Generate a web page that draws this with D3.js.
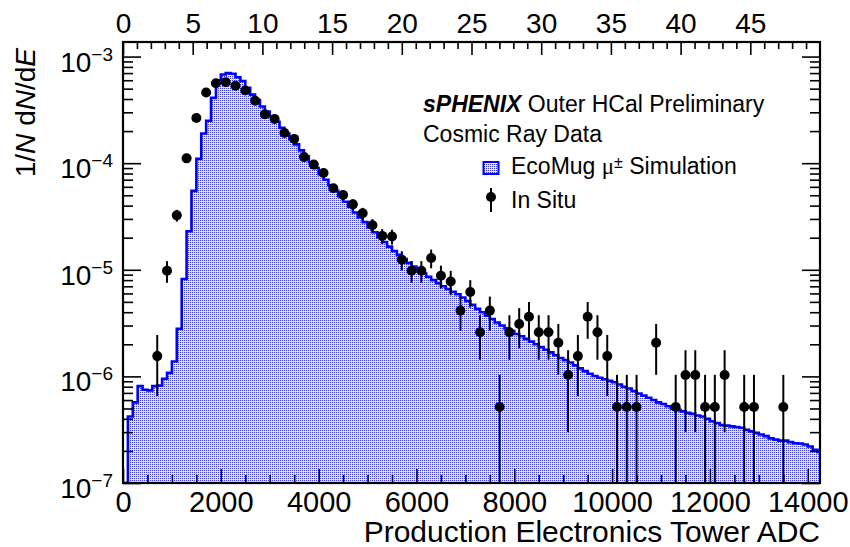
<!DOCTYPE html>
<html>
<head>
<meta charset="utf-8">
<script src="https://cdnjs.cloudflare.com/ajax/libs/d3/7.8.5/d3.min.js"></script>
<style>
  body { margin: 0; background: #fff; }
  text { font-family: "Liberation Sans", Arial, Helvetica, sans-serif; fill: #000; }
</style>
</head>
<body>
<svg id="chart" width="850" height="547"></svg>
<script>
//! DATA
// EcoMug simulation, 100 ADC wide bins starting at 0
let simBinWidth = 100;
let simValues = [
    0, 4.2e-7, 5.7e-7, 8.1e-7, 7.5e-7, 7.4e-7, 8.1e-7, 8.2e-7, 9.5e-7, 1.08e-6,
    1.38e-6, 2.8e-6, 8.2e-6, 2.3e-5, 5.5e-5, 1.1e-4, 1.9e-4, 2.5e-4, 4.1e-4, 6.0e-4,
    6.8e-4, 7.0e-4, 6.9e-4, 6.4e-4, 5.9e-4, 5.1e-4, 4.4e-4, 3.9e-4, 3.4e-4, 3.05e-4,
    2.75e-4, 2.45e-4, 2.15e-4, 1.9e-4, 1.68e-4, 1.5e-4, 1.32e-4, 1.16e-4, 1.02e-4, 9.0e-5,
    7.9e-5, 7.0e-5, 6.2e-5, 5.5e-5, 4.9e-5, 4.35e-5, 3.9e-5, 3.45e-5, 3.1e-5, 2.8e-5,
    2.5e-5, 2.25e-5, 2.02e-5, 1.82e-5, 1.65e-5, 1.5e-5, 1.38e-5, 1.26e-5, 1.16e-5, 1.07e-5,
    9.9e-6, 9.2e-6, 8.6e-6, 8.0e-6, 7.5e-6, 7.0e-6, 6.6e-6, 6.2e-6, 5.9e-6, 5.5e-6,
    5.1e-6, 4.7e-6, 4.3e-6, 4.0e-6, 3.7e-6, 3.45e-6, 3.2e-6, 3.0e-6, 2.82e-6, 2.66e-6,
    2.5e-6, 2.38e-6, 2.25e-6, 2.12e-6, 2.0e-6, 1.88e-6, 1.78e-6, 1.68e-6, 1.58e-6, 1.49e-6,
    1.42e-6, 1.35e-6, 1.27e-6, 1.19e-6, 1.12e-6, 1.06e-6, 1.01e-6, 9.7e-7, 9.4e-7, 9.1e-7,
    8.8e-7, 8.4e-7, 8.0e-7, 7.7e-7, 7.3e-7, 6.9e-7, 6.6e-7, 6.3e-7, 6.0e-7, 5.7e-7,
    5.5e-7, 5.25e-7, 5.0e-7, 4.85e-7, 4.7e-7, 4.55e-7, 4.45e-7, 4.3e-7, 4.2e-7, 4.0e-7,
    3.8e-7, 3.65e-7, 3.5e-7, 3.45e-7, 3.4e-7, 3.35e-7, 3.3e-7, 3.15e-7, 3.05e-7, 2.95e-7,
    2.85e-7, 2.75e-7, 2.62e-7, 2.55e-7, 2.5e-7, 2.5e-7, 2.42e-7, 2.36e-7, 2.35e-7, 2.3e-7,
    2.2e-7, 2.05e-7, 1.96e-7
];

// In situ data, 200 ADC wide bins (only non-empty bins)
let inSituADC = [
    700, 900, 1100, 1300, 1500, 1700, 1900, 2100, 2300, 2500,
    2700, 2900, 3100, 3300, 3500, 3700, 3900, 4100, 4300, 4500,
    4700, 4900, 5100, 5300, 5500, 5700, 5900, 6100, 6300, 6500,
    6700, 6900, 7100, 7300, 7500, 7700, 7900, 8100, 8300, 8500,
    8700, 8900, 9100, 9300, 9500, 9700, 9900, 10100, 10300, 10500,
    10900, 11300, 11500, 11700, 11900, 12100, 12300, 12700, 12900, 13500
];
let inSituValues = [
    1.55e-6, 9.8e-6, 3.24e-5, 1.11e-4, 2.65e-4, 4.61e-4, 5.62e-4, 5.75e-4, 5.32e-4, 4.81e-4,
    3.85e-4, 2.87e-4, 2.6e-4, 1.92e-4, 1.69e-4, 1.14e-4, 9.7e-5, 8.1e-5, 5.81e-5, 5.02e-5,
    4.11e-5, 3.39e-5, 2.62e-5, 2.08e-5, 2.05e-5, 1.24e-5, 9.8e-6, 9.8e-6, 1.29e-5, 8.8e-6,
    7.76e-6, 4.14e-6, 6.2e-6, 2.59e-6, 4.14e-6, 5.17e-7, 2.59e-6, 3.1e-6, 3.62e-6, 2.59e-6,
    2.59e-6, 2.07e-6, 1.03e-6, 1.55e-6, 3.62e-6, 2.59e-6, 1.55e-6, 5.17e-7, 5.17e-7, 5.17e-7,
    2.07e-6, 5.17e-7, 1.03e-6, 1.03e-6, 5.17e-7, 5.17e-7, 1.03e-6, 5.17e-7, 5.17e-7, 5.17e-7
];
// weight of one entry (smallest filled bin), used for Poisson error bars
let entryWeight = 5.17e-7;

let bottomTicks = [0, 2000, 4000, 6000, 8000, 10000, 12000, 14000];
let topTicks = [0, 5, 10, 15, 20, 25, 30, 35, 40, 45];
let decades = [-7, -6, -5, -4, -3];

//? Layout
let svg = d3.select("#chart");
let fLeft = 123, fRight = 820, fTop = 42, fBottom = 483;

let x = d3.scaleLinear().domain([0, 14250]).range([fLeft, fRight]);
let xTop = d3.scaleLinear().domain([0, 50]).range([fLeft, fRight]);
let y = d3.scaleLog().domain([1e-7, 1.37e-3]).range([fBottom, fTop]);

let defs = svg.append("defs");
let pat = defs.append("pattern")
    .attr("id", "dots")
    .attr("width", 2).attr("height", 2)
    .attr("patternUnits", "userSpaceOnUse");
pat.append("rect").attr("width", 2).attr("height", 2).attr("fill", "#eaeaff");
pat.append("rect").attr("width", 1).attr("height", 1).attr("fill", "#3a3aff");

defs.append("clipPath").attr("id", "frameClip")
    .append("rect")
    .attr("x", fLeft).attr("y", fTop)
    .attr("width", fRight - fLeft).attr("height", fBottom - fTop);

//? Simulation histogram
let simPoints = simValues.map((v, i) => [i * simBinWidth, v]);
simPoints.push([simValues.length * simBinWidth, simValues[simValues.length - 1]]);

function yClamp(v) {
    return v > 0 ? Math.min(y(v), fBottom) : fBottom;
}

let plot = svg.append("g").attr("clip-path", "url(#frameClip)");

plot.append("path")
    .datum(simPoints)
    .attr("fill", "url(#dots)")
    .attr("d", d3.area()
        .curve(d3.curveStepAfter)
        .x(d => x(d[0]))
        .y0(fBottom)
        .y1(d => yClamp(d[1])));

plot.append("path")
    .datum(simPoints)
    .attr("fill", "none")
    .attr("stroke", "#0000ff")
    .attr("stroke-width", 2.6)
    .attr("d", d3.line()
        .curve(d3.curveStepAfter)
        .x(d => x(d[0]))
        .y(d => yClamp(d[1])));

//? In situ points
let pts = inSituADC.map((a, i) => {
    let v = inSituValues[i];
    let e = Math.sqrt(v * entryWeight);
    return { a: a, v: v, hi: v + e, lo: v - e };
});

plot.append("g")
    .selectAll("line")
    .data(pts)
    .enter()
    .append("line")
    .attr("x1", d => x(d.a))
    .attr("x2", d => x(d.a))
    .attr("y1", d => y(d.hi))
    .attr("y2", d => d.lo > 1e-9 ? Math.min(y(d.lo), fBottom) : fBottom)
    .attr("stroke", "#000")
    .attr("stroke-width", 2);

plot.append("g")
    .selectAll("circle")
    .data(pts)
    .enter()
    .append("circle")
    .attr("cx", d => x(d.a))
    .attr("cy", d => y(d.v))
    .attr("r", 5)
    .attr("fill", "#000");

//? Frame
svg.append("rect")
    .attr("x", fLeft).attr("y", fTop)
    .attr("width", fRight - fLeft).attr("height", fBottom - fTop)
    .attr("fill", "none")
    .attr("stroke", "#000")
    .attr("stroke-width", 2.2);

//? Axes (ticks point inside the frame)
function styleAxis(g) {
    g.select(".domain").remove();
    g.selectAll(".tick line").attr("stroke", "#000").attr("stroke-width", 1.6);
    g.selectAll("text").attr("fill", "#000");
    g.attr("font-family", null);
}

let bottomMinor = d3.range(0, 14251, 500).filter(v => v % 2000 !== 0);
svg.append("g")
    .attr("transform", `translate(0,${fBottom})`)
    .call(d3.axisBottom(x).tickValues(bottomMinor).tickSize(-8).tickFormat(""))
    .call(styleAxis);
svg.append("g")
    .attr("transform", `translate(0,${fBottom})`)
    .call(d3.axisBottom(x).tickValues(bottomTicks).tickSize(-14).tickPadding(8).tickFormat(d3.format("d")))
    .call(styleAxis)
    .attr("font-size", 29);

let topMinor = d3.range(0, 50).filter(v => v % 5 !== 0);
svg.append("g")
    .attr("transform", `translate(0,${fTop})`)
    .call(d3.axisTop(xTop).tickValues(topMinor).tickSize(-7).tickFormat(""))
    .call(styleAxis);
svg.append("g")
    .attr("transform", `translate(0,${fTop})`)
    .call(d3.axisTop(xTop).tickValues(topTicks).tickSize(-13).tickPadding(9).tickFormat(d3.format("d")))
    .call(styleAxis)
    .attr("font-size", 28);

let majorY = decades.map(p => Math.pow(10, p));
let minorY = [];
decades.forEach(p => {
    d3.range(2, 10).forEach(m => {
        let v = m * Math.pow(10, p);
        if (v < 1.37e-3) minorY.push(v);
    });
});

[["left", fLeft], ["right", fRight]].forEach(([side, pos]) => {
    let mk = side === "left" ? d3.axisLeft : d3.axisRight;
    svg.append("g")
        .attr("transform", `translate(${pos},0)`)
        .call(mk(y).tickValues(minorY).tickSize(-10).tickFormat(""))
        .call(styleAxis);
    svg.append("g")
        .attr("transform", `translate(${pos},0)`)
        .call(mk(y).tickValues(majorY).tickSize(-18).tickFormat(""))
        .call(styleAxis);
});

// y tick labels 10^n
let yLab = svg.append("g")
    .selectAll("text")
    .data(decades)
    .enter()
    .append("text")
    .attr("x", 113)
    .attr("y", d => y(Math.pow(10, d)) + 15)
    .attr("text-anchor", "end")
    .attr("font-size", 28);
yLab.append("tspan").text("10");
yLab.append("tspan")
    .attr("dy", -11)
    .attr("font-size", 19)
    .text(d => "\u2212" + Math.abs(d));

//? Axis titles
svg.append("text")
    .attr("x", fRight)
    .attr("y", 542)
    .attr("text-anchor", "end")
    .attr("font-size", 30)
    .text("Production Electronics Tower ADC");

let yt = svg.append("text")
    .attr("transform", `translate(35,${fTop + 6}) rotate(-90)`)
    .attr("text-anchor", "end")
    .attr("font-size", 28);
yt.append("tspan").text("1/");
yt.append("tspan").attr("font-style", "italic").text("N");
yt.append("tspan").text(" d");
yt.append("tspan").attr("font-style", "italic").text("N");
yt.append("tspan").text("/d");
yt.append("tspan").attr("font-style", "italic").text("E");

//? Labels and legend
let lab = svg.append("text").attr("x", 423).attr("y", 111.5).attr("font-size", 23);
lab.append("tspan").attr("font-weight", "bold").attr("font-style", "italic").text("sPHENIX");
lab.append("tspan").text(" Outer HCal Preliminary");

svg.append("text").attr("x", 423).attr("y", 141.5).attr("font-size", 23).text("Cosmic Ray Data");

svg.append("rect")
    .attr("x", 483.5).attr("y", 162)
    .attr("width", 15).attr("height", 12)
    .attr("fill", "url(#dots)")
    .attr("stroke", "#0000ff")
    .attr("stroke-width", 2);

let leg1 = svg.append("text").attr("x", 511).attr("y", 174).attr("font-size", 23);
leg1.append("tspan").text("EcoMug ");
leg1.append("tspan").attr("font-family", "'Liberation Serif', 'DejaVu Serif', serif").text("\u03bc");
leg1.append("tspan").attr("font-size", 16).attr("dy", -6).text("\u00b1");
leg1.append("tspan").attr("dy", 6).text(" Simulation");

svg.append("line")
    .attr("x1", 491).attr("x2", 491)
    .attr("y1", 188).attr("y2", 212)
    .attr("stroke", "#000").attr("stroke-width", 2);
svg.append("circle").attr("cx", 491).attr("cy", 197).attr("r", 5).attr("fill", "#000");
svg.append("text").attr("x", 511).attr("y", 208).attr("font-size", 23).text("In Situ");
</script>
</body>
</html>
